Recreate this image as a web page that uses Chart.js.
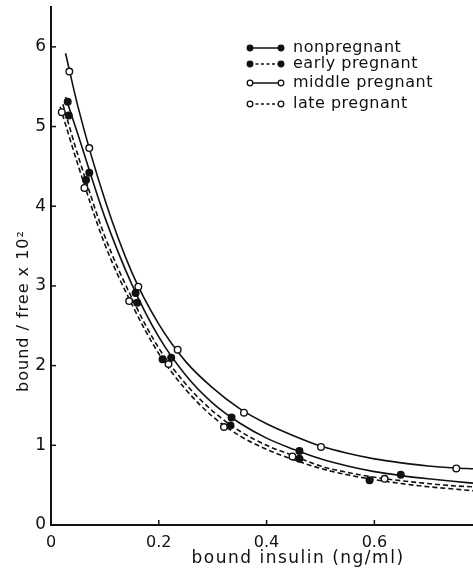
<!DOCTYPE html>
<html>
<head>
<meta charset="utf-8">
<script src="https://cdn.jsdelivr.net/npm/chart.js@4/dist/chart.umd.min.js"></script>
<style>
html,body{margin:0;padding:0;background:#fff;}
#wrap{width:473px;height:574px;position:relative;}
</style>
</head>
<body>
<div id="wrap"><canvas id="c" width="473" height="574"></canvas></div>
<script>
// ---- data ----
const seriesNames = ["nonpregnant", "early pregnant", "middle pregnant", "late pregnant"];
const xTicks = [0, 0.2, 0.4, 0.6];
const yTicks = [0, 1, 2, 3, 4, 5, 6];

// measured points
const nonPregX = [0.031, 0.071, 0.157, 0.223, 0.335, 0.461, 0.649];
const nonPregY = [5.31, 4.42, 2.91, 2.10, 1.35, 0.93, 0.63];
const earlyX = [0.033, 0.065, 0.160, 0.207, 0.333, 0.461, 0.591];
const earlyY = [5.14, 4.33, 2.79, 2.08, 1.25, 0.83, 0.56];
const middleX = [0.034, 0.071, 0.162, 0.235, 0.358, 0.501, 0.752];
const middleY = [5.69, 4.73, 2.99, 2.20, 1.41, 0.98, 0.71];
const lateX = [0.020, 0.062, 0.145, 0.218, 0.321, 0.448, 0.619];
const lateY = [5.18, 4.23, 2.81, 2.02, 1.23, 0.86, 0.58];

// fitted curves
const nonPregCurveX = [0.027, 0.05, 0.1, 0.15, 0.2, 0.25, 0.3, 0.35, 0.4, 0.45, 0.5, 0.55, 0.6, 0.65, 0.7, 0.75, 0.783];
const nonPregCurveY = [5.37, 4.90, 3.86, 3.02, 2.36, 1.88, 1.53, 1.28, 1.09, 0.95, 0.83, 0.74, 0.67, 0.62, 0.58, 0.545, 0.525];
const earlyCurveX = [0.022, 0.05, 0.1, 0.15, 0.2, 0.25, 0.3, 0.35, 0.4, 0.45, 0.5, 0.55, 0.6, 0.65, 0.7, 0.75, 0.783];
const earlyCurveY = [5.28, 4.64, 3.62, 2.85, 2.22, 1.77, 1.43, 1.18, 1.00, 0.87, 0.74, 0.66, 0.60, 0.555, 0.52, 0.49, 0.48];
const middleCurveX = [0.027, 0.05, 0.1, 0.15, 0.2, 0.25, 0.3, 0.35, 0.4, 0.45, 0.5, 0.55, 0.6, 0.65, 0.7, 0.75, 0.783];
const middleCurveY = [5.92, 5.25, 4.08, 3.17, 2.52, 2.05, 1.72, 1.46, 1.27, 1.12, 0.99, 0.90, 0.83, 0.78, 0.74, 0.715, 0.705];
const lateCurveX = [0.017, 0.05, 0.1, 0.15, 0.2, 0.25, 0.3, 0.35, 0.4, 0.45, 0.5, 0.55, 0.6, 0.65, 0.7, 0.75, 0.783];
const lateCurveY = [5.25, 4.52, 3.52, 2.77, 2.15, 1.70, 1.36, 1.12, 0.95, 0.82, 0.71, 0.63, 0.57, 0.52, 0.48, 0.45, 0.43];

const xTitle = "bound insulin (ng/ml)";
const yTitle = "bound / free x 10²";

// ---- build ----
const pts = (xs, ys) => xs.map((x, i) => ({x: x, y: ys[i]}));
const FONT = '"DejaVu Sans", sans-serif';

function curve(xs, ys, dash) {
  return {type: 'line', data: pts(xs, ys), borderColor: '#111', borderWidth: 1.6,
    borderDash: dash, pointRadius: 0, cubicInterpolationMode: 'monotone', fill: false, order: 2};
}
function marks(xs, ys, filled) {
  return {type: 'scatter', data: pts(xs, ys), showLine: false, pointRadius: 3.3,
    pointBorderWidth: 1.4, pointBorderColor: '#111',
    pointBackgroundColor: filled ? '#111' : '#fff', order: 1};
}

const styles = [
  {filled: true, dash: []},
  {filled: true, dash: [5, 3]},
  {filled: false, dash: []},
  {filled: false, dash: [5, 3]}
];

const extras = {
  id: 'extras',
  afterDraw(chart) {
    const ctx = chart.ctx;
    const xs = chart.scales.x, ys = chart.scales.y;
    ctx.save();
    ctx.strokeStyle = '#111';
    ctx.lineWidth = 1.5;
    // inside tick marks
    xTicks.slice(1).forEach(v => {
      const p = xs.getPixelForValue(v);
      ctx.beginPath(); ctx.moveTo(p, ys.bottom); ctx.lineTo(p, ys.bottom - 5); ctx.stroke();
    });
    yTicks.slice(1).forEach(v => {
      const p = ys.getPixelForValue(v);
      ctx.beginPath(); ctx.moveTo(xs.left, p); ctx.lineTo(xs.left + 5, p); ctx.stroke();
    });
    // axis titles
    ctx.fillStyle = '#111';
    ctx.textAlign = 'center';
    ctx.textBaseline = 'middle';
    ctx.font = '17px ' + FONT;
    try { ctx.letterSpacing = '1.5px'; } catch (e) {}
    ctx.fillText(xTitle, 298, 559);
    ctx.font = '16px ' + FONT;
    try { ctx.letterSpacing = '1px'; } catch (e) {}
    ctx.save();
    ctx.translate(24, 311);
    ctx.rotate(-Math.PI / 2);
    ctx.fillText(yTitle, 0, 0);
    ctx.restore();
    // legend
    ctx.textAlign = 'left';
    try { ctx.letterSpacing = '0.5px'; } catch (e) {}
    const rowsY = [48, 64, 83, 104];
    seriesNames.forEach((name, i) => {
      const y = rowsY[i], st = styles[i];
      ctx.setLineDash(st.dash.length ? [3, 2.5] : []);
      ctx.lineWidth = 1.5;
      ctx.beginPath(); ctx.moveTo(250, y); ctx.lineTo(281, y); ctx.stroke();
      ctx.setLineDash([]);
      [250, 281].forEach(cx => {
        ctx.beginPath(); ctx.arc(cx, y, 2.8, 0, Math.PI * 2);
        ctx.fillStyle = st.filled ? '#111' : '#fff';
        ctx.fill(); ctx.lineWidth = 1.3; ctx.stroke();
      });
      ctx.fillStyle = '#111';
      ctx.fillText(name, 293, y);
    });
    ctx.restore();
  }
};

const datasets = [
  curve(nonPregCurveX, nonPregCurveY, styles[0].dash),
  curve(earlyCurveX, earlyCurveY, styles[1].dash),
  curve(middleCurveX, middleCurveY, styles[2].dash),
  curve(lateCurveX, lateCurveY, styles[3].dash),
  marks(nonPregX, nonPregY, true),
  marks(earlyX, earlyY, true),
  marks(middleX, middleY, false),
  marks(lateX, lateY, false)
];
datasets.forEach((d, i) => d.label = seriesNames[i % 4]);

new Chart(document.getElementById('c'), {
  type: 'line',
  data: {datasets: datasets},
  options: {
    responsive: false,
    animation: false,
    events: [],
    layout: {autoPadding: false, padding: {top: 7, right: 0, left: 0, bottom: 0}},
    plugins: {legend: {display: false}, tooltip: {enabled: false}},
    scales: {
      x: {
        type: 'linear', min: 0, max: 0.783,
        afterBuildTicks: s => { s.ticks = xTicks.map(v => ({value: v})); },
        afterFit: s => { s.height = 49; s.paddingLeft = 0; s.paddingRight = 0; },
        grid: {display: true, drawOnChartArea: false, drawTicks: false},
        border: {display: true, color: '#111', width: 2},
        ticks: {color: '#111', padding: 8, font: {family: FONT, size: 16},
          callback: v => v === 0 ? '0' : v.toFixed(1)}
      },
      y: {
        type: 'linear', min: 0, max: 6.5,
        afterBuildTicks: s => { s.ticks = yTicks.map(v => ({value: v})); },
        afterFit: s => { s.width = 51; s.paddingTop = 0; s.paddingBottom = 0; },
        grid: {display: true, drawOnChartArea: false, drawTicks: false},
        border: {display: true, color: '#111', width: 2},
        ticks: {color: '#111', padding: 5, font: {family: FONT, size: 17},
          callback: v => String(v)}
      }
    }
  },
  plugins: [extras]
});
</script>
</body>
</html>
